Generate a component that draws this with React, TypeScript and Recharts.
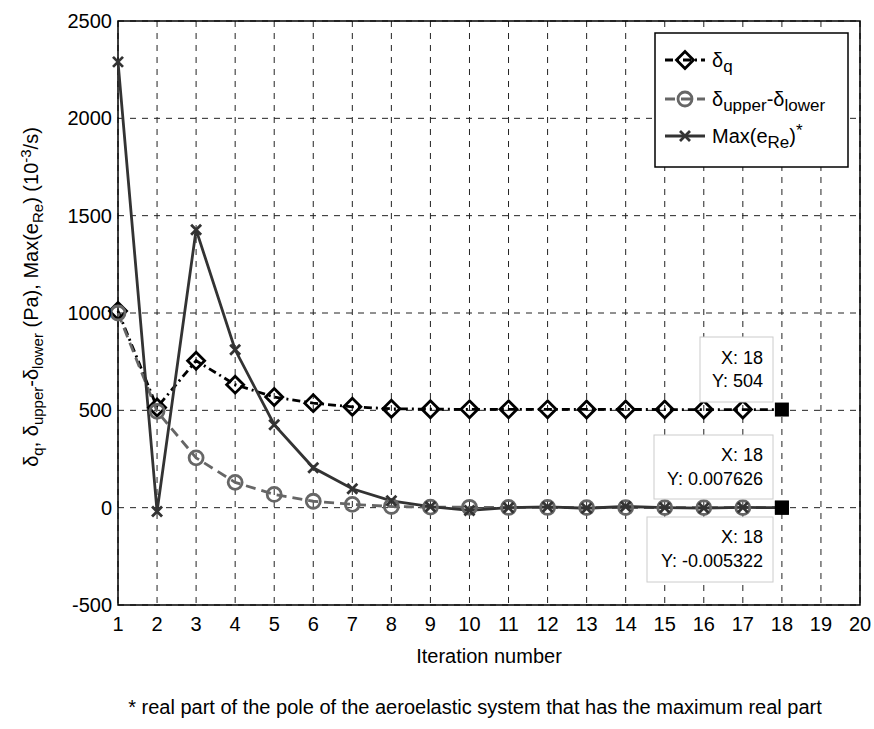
import React from 'react';
import { LineChart, Line, XAxis, YAxis, CartesianGrid, ReferenceArea, ReferenceDot } from 'recharts';

const iterations = [1, 2, 3, 4, 5, 6, 7, 8, 9, 10, 11, 12, 13, 14, 15, 16, 17, 18];
const deltaQ = [1010, 515, 755, 632, 568, 537, 518, 508, 506, 505, 505, 505, 504.5, 504.5, 504, 504, 504, 504];
const deltaUpperLower = [1000, 495, 256, 130, 68, 33, 17, 6, 3, 2, 1, 1, 0.5, 0.5, 0.2, 0.1, 0.05, 0.007626];
const maxERe = [2290, -20, 1428, 811, 426, 205, 97, 35, 5, -14, 0, 4, -3, 6, 0, -2, 1, -0.005322];
const xTicks = [1, 2, 3, 4, 5, 6, 7, 8, 9, 10, 11, 12, 13, 14, 15, 16, 17, 18, 19, 20];
const yTicks = [-500, 0, 500, 1000, 1500, 2000, 2500];
const tips = [
  { x: 18, y: 504, label: '504' },
  { x: 18, y: 0.007626, label: '0.007626' },
  { x: 18, y: -0.005322, label: '-0.005322' },
];

const data = iterations.map((it, i) => ({
  x: it,
  dq: deltaQ[i],
  dul: deltaUpperLower[i],
  ere: maxERe[i],
}));

const FONT = '"Liberation Sans", Arial, sans-serif';
const TIP_X = 18;

// text pieces: [text, shift] where shift is 0 (normal), 1 (sub), -1 (super)
type Piece = [string, number];

const RichText = ({ pieces, subSize, ...rest }: any) => {
  let cur = 0;
  return (
    <text {...rest}>
      {pieces.map(([t, s]: Piece, i: number) => {
        const target = s === 1 ? 5 : s === -1 ? -7 : 0;
        const dy = target - cur;
        cur = target;
        return (
          <tspan key={i} dy={dy} fontSize={s === 0 ? undefined : subSize}>
            {t}
          </tspan>
        );
      })}
    </text>
  );
};

const Diamond = (props: any) => {
  const { cx, cy, payload } = props;
  if (cx == null || cy == null || (payload && payload.x === TIP_X)) return null;
  const r = 8.5;
  return (
    <path
      d={`M${cx},${cy - r} L${cx + r},${cy} L${cx},${cy + r} L${cx - r},${cy} Z`}
      fill="none"
      stroke="#000"
      strokeWidth={2.8}
    />
  );
};

const Ring = (props: any) => {
  const { cx, cy, payload } = props;
  if (cx == null || cy == null || (payload && payload.x === TIP_X)) return null;
  return <circle cx={cx} cy={cy} r={7} fill="none" stroke="#666" strokeWidth={2.8} />;
};

const Cross = (props: any) => {
  const { cx, cy, payload } = props;
  if (cx == null || cy == null || (payload && payload.x === TIP_X)) return null;
  const r = 5;
  return (
    <path
      d={`M${cx - r},${cy - r} L${cx + r},${cy + r} M${cx - r},${cy + r} L${cx + r},${cy - r}`}
      stroke="#333"
      strokeWidth={2.8}
    />
  );
};

const Square = (props: any) => {
  const { cx, cy } = props;
  return <rect x={cx - 7} y={cy - 7} width={14} height={14} fill="#000" />;
};

const yLabel: Piece[] = [
  ['δ', 0], ['q', 1], [', δ', 0], ['upper', 1], ['-δ', 0], ['lower', 1],
  [' (Pa), Max(e', 0], ['Re', 1], [') (10', 0], ['-3', -1], ['/s)', 0],
];

const Overlay = () => {
  const tipBoxes = [
    { x: 700, y: 337, w: 73, h: 65, b1: 364, b2: 387 },
    { x: 654, y: 435, w: 119, h: 64, b1: 461, b2: 485 },
    { x: 647, y: 517, w: 126, h: 65, b1: 543, b2: 567 },
  ];
  return (
    <svg width={874} height={729} style={{ position: 'absolute', left: 0, top: 0, pointerEvents: 'none' }}>
      <g fontFamily={FONT} fill="#000">
        {/* y axis label */}
        <RichText
          transform="translate(38,297) rotate(-90)"
          textAnchor="middle"
          fontSize={20}
          subSize={15}
          pieces={yLabel}
        />

        {/* legend */}
        <rect x={655} y={33} width={193} height={134} fill="#fff" stroke="#000" strokeWidth={1.5} />
        <line x1={665} y1={60} x2={705} y2={60} stroke="#000" strokeWidth={2.8} strokeDasharray="8 4 2 4" />
        <Diamond cx={685} cy={60} />
        <RichText x={712} y={67} fontSize={20} subSize={17} pieces={[['δ', 0], ['q', 1]]} />
        <line x1={665} y1={99} x2={705} y2={99} stroke="#666" strokeWidth={2.8} strokeDasharray="10 6" />
        <Ring cx={685} cy={99} />
        <RichText
          x={712}
          y={106}
          fontSize={20}
          subSize={17}
          pieces={[['δ', 0], ['upper', 1], ['-δ', 0], ['lower', 1]]}
        />
        <line x1={665} y1={136} x2={705} y2={136} stroke="#333" strokeWidth={2.8} />
        <Cross cx={685} cy={136} />
        <RichText
          x={712}
          y={143}
          fontSize={20}
          subSize={17}
          pieces={[['Max(e', 0], ['Re', 1], [')', 0], ['*', -1]]}
        />

        {/* data tips */}
        {tipBoxes.map((b, i) => (
          <g key={i}>
            <rect x={b.x} y={b.y} width={b.w} height={b.h} fill="#fff" stroke="#ccc" strokeWidth={1} />
            <text x={763} y={b.b1} textAnchor="end" fontSize={18}>X: {tips[i].x}</text>
            <text x={763} y={b.b2} textAnchor="end" fontSize={18}>Y: {tips[i].label}</text>
          </g>
        ))}

        {/* footnote */}
        <text x={475} y={714} textAnchor="middle" fontSize={20}>
          * real part of the pole of the aeroelastic system that has the maximum real part
        </text>
      </g>
    </svg>
  );
};

export default function App() {
  return (
    <div style={{ position: 'absolute', left: 0, top: 0, width: 874, height: 729, background: '#fff' }}>
      <LineChart width={874} height={729} data={data} margin={{ top: 21, right: 14, bottom: 94, left: 58 }}>
        <CartesianGrid stroke="#222" strokeDasharray="6 6" strokeWidth={1} />
        <XAxis
          dataKey="x"
          type="number"
          domain={[1, 20]}
          ticks={xTicks}
          interval={0}
          height={30}
          tickSize={0}
          tickMargin={12}
          axisLine={false}
          tick={{ fill: '#000', fontSize: 20, fontFamily: FONT }}
          label={{ value: 'Iteration number', position: 'insideBottom', offset: -28, fill: '#000', fontSize: 20, fontFamily: FONT }}
        />
        <YAxis
          type="number"
          domain={[-500, 2500]}
          ticks={yTicks}
          width={60}
          tickSize={0}
          tickMargin={6}
          axisLine={false}
          tick={{ fill: '#000', fontSize: 20, fontFamily: FONT }}
        />
        <ReferenceArea x1={1} x2={20} y1={-500} y2={2500} fill="none" stroke="#000" strokeWidth={1.5} ifOverflow="visible" />
        <Line dataKey="dq" stroke="#000" strokeWidth={2.8} strokeDasharray="8 4 2 4" dot={<Diamond />} isAnimationActive={false} />
        <Line dataKey="dul" stroke="#666" strokeWidth={2.8} strokeDasharray="10 6" dot={<Ring />} isAnimationActive={false} />
        <Line dataKey="ere" stroke="#333" strokeWidth={2.8} dot={<Cross />} isAnimationActive={false} />
        {tips.map((t, i) => (
          <ReferenceDot key={i} x={t.x} y={t.y} r={7} shape={<Square />} ifOverflow="visible" />
        ))}
      </LineChart>
      <Overlay />
    </div>
  );
}
